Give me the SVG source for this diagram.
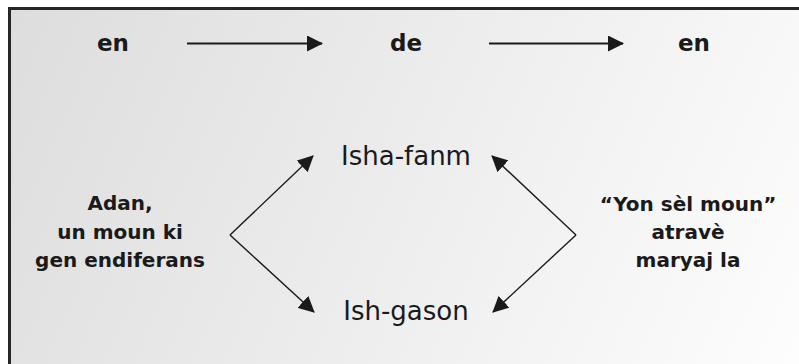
<svg xmlns="http://www.w3.org/2000/svg" width="799" height="364" viewBox="0 0 799 364">
<defs>
<linearGradient id="bg" gradientUnits="userSpaceOnUse" x1="10" y1="10" x2="799" y2="364">
<stop offset="0" stop-color="#dddddd"/>
<stop offset="1" stop-color="#fdfdfd"/>
</linearGradient>
<marker id="ah" viewBox="0 0 16 16" refX="15" refY="8" markerWidth="16" markerHeight="16" markerUnits="userSpaceOnUse" orient="auto">
<path d="M0,0 L16,8 L0,16 Z" fill="#1a1a1a"/>
</marker>
</defs>
<style>
.t{font-family:"DejaVu Sans",sans-serif;fill:#1a1a1a;text-anchor:middle}
.top{font-size:23px;font-weight:bold}
.side{font-size:20px;font-weight:bold}
.mid{font-size:26px}
.c{stroke:#1a1a1a;fill:none}
</style>
<rect x="0" y="0" width="799" height="364" fill="#ffffff"/>
<rect x="9.5" y="8.5" width="800" height="370" fill="url(#bg)" stroke="#262626" stroke-width="3"/>
<g id="node-en1"><text class="t top" x="113" y="51">en</text></g>
<g id="node-de"><text class="t top" x="406" y="51">de</text></g>
<g id="node-en2"><text class="t top" x="694" y="51">en</text></g>
<g id="node-adan"><text class="t side" x="120" y="210">Adan,</text><text class="t side" x="120" y="239">un moun ki</text><text class="t side" x="120" y="267">gen endiferans</text></g>
<g id="node-isha"><text class="t mid" x="406" y="165">Isha-fanm</text></g>
<g id="node-ish"><text class="t mid" x="406" y="320">Ish-gason</text></g>
<g id="node-yon"><text class="t side" x="688" y="211">“Yon sèl moun”</text><text class="t side" x="688" y="239">atravè</text><text class="t side" x="688" y="267">maryaj la</text></g>
<g id="connectors">
<line class="c" x1="187" y1="43.5" x2="322" y2="43.5" stroke-width="2.2" marker-end="url(#ah)"/>
<line class="c" x1="489" y1="43.5" x2="623" y2="43.5" stroke-width="2.2" marker-end="url(#ah)"/>
<path class="c" d="M230,235 L313,156" stroke-width="1.4" marker-end="url(#ah)"/>
<path class="c" d="M230,235 L314,312" stroke-width="1.4" marker-end="url(#ah)"/>
<path class="c" d="M576,235 L492,156" stroke-width="1.4" marker-end="url(#ah)"/>
<path class="c" d="M576,235 L493,312" stroke-width="1.4" marker-end="url(#ah)"/>
</g>
</svg>
